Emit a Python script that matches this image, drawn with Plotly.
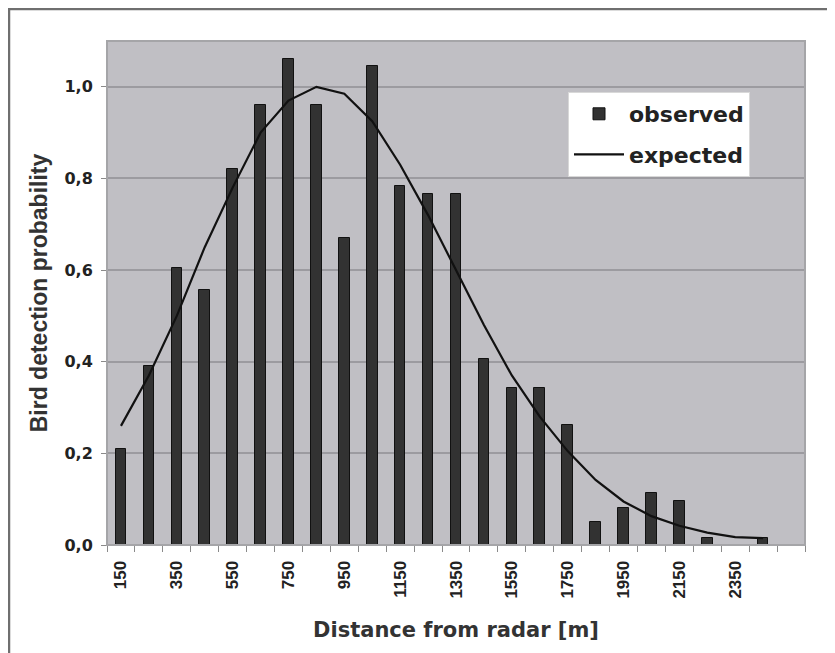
import plotly.graph_objects as go

distance = [150, 250, 350, 450, 550, 650, 750, 850, 950, 1050, 1150, 1250,
            1350, 1450, 1550, 1650, 1750, 1850, 1950, 2050, 2150, 2250, 2350, 2450]
observed = [0.21, 0.39, 0.605, 0.557, 0.82, 0.96, 1.06, 0.96, 0.67, 1.046, 0.784, 0.766,
            0.766, 0.406, 0.343, 0.343, 0.262, 0.05, 0.08, 0.113, 0.096, 0.015, 0.0, 0.015]
expected = [0.26, 0.37, 0.50, 0.65, 0.78, 0.90, 0.97, 1.00, 0.985, 0.925, 0.83, 0.72,
            0.60, 0.48, 0.37, 0.28, 0.205, 0.142, 0.095, 0.063, 0.042, 0.027, 0.017, 0.015]
x_ticks = [150, 350, 550, 750, 950, 1150, 1350, 1550, 1750, 1950, 2150, 2350]
y_ticks = [0.0, 0.2, 0.4, 0.6, 0.8, 1.0]

WIDE = "DejaVu Sans, Verdana, sans-serif"
NARROW = "Liberation Sans, Arial, sans-serif"

L, T, PW, PH = 99, 33, 698, 504
W, H = 835, 653

fig = go.Figure()
fig.add_trace(go.Bar(
    x=distance, y=observed, name="observed", width=38, legendgroup="o",
    marker=dict(color="#323232", line=dict(color="#111111", width=1)),
))
fig.add_trace(go.Scatter(
    x=distance, y=expected, name="expected", mode="lines", legendgroup="e",
    line=dict(color="#111111", width=2.2),
))

fig.update_layout(
    width=W, height=H,
    margin=dict(l=L, r=W - L - PW, t=T, b=H - T - PH, autoexpand=False),
    paper_bgcolor="white",
    plot_bgcolor="#c0bfc4",
    separators=",.",
    font=dict(family=WIDE, color="#222222"),
    showlegend=True,
    legend=dict(
        x=(560 - L) / PW, y=(T + PH - 84) / PH, xanchor="left", yanchor="top",
        bgcolor="white", bordercolor="#d8d8d8", borderwidth=1,
        font=dict(family=WIDE, size=22, color="#222222", weight="bold"),
        itemwidth=50, traceorder="grouped", tracegroupgap=9,
        entrywidth=185,
    ),
    bargap=0,
)

fig.update_xaxes(
    range=[100, 2600], automargin=False,
    tickvals=x_ticks, ticktext=[str(v) for v in x_ticks],
    tickangle=-90, ticks="", ticklabelstandoff=8,
    tickfont=dict(family=NARROW, size=17, color="#222222", weight="bold"),
    showgrid=False, zeroline=False,
    showline=True, linecolor="#8a8a8a", linewidth=1,
    minor=dict(tick0=100, dtick=100, ticks="outside", ticklen=6,
               tickcolor="#8a8a8a", showgrid=False),
    title=dict(text="Distance from radar [m]",
               font=dict(family=WIDE, size=21, color="#333333", weight="bold"),
               standoff=24),
)
fig.update_yaxes(
    range=[0, 1.1], automargin=False,
    tickvals=y_ticks, tickformat=".1f",
    ticks="outside", ticklen=5, tickcolor="#8a8a8a", ticklabelstandoff=5,
    tickfont=dict(family=WIDE, size=16, color="#222222", weight="bold"),
    showgrid=True, gridcolor="#9c9ba0", gridwidth=2,
    zeroline=False,
    showline=True, linecolor="#8a8a8a", linewidth=1,
    title=dict(text="Bird detection probability",
               font=dict(family=NARROW, size=23, color="#333333", weight="bold"),
               standoff=10),
)

# plot-area edges
fig.add_shape(type="rect", xref="paper", yref="paper", x0=0, y0=0, x1=1, y1=1,
              line=dict(color="#a5a5a8", width=2), layer="above")
# outer frame
fig.add_shape(type="rect", xref="paper", yref="paper",
              x0=(1 - L) / PW, x1=(W + 20 - L) / PW,
              y0=(T + PH - H - 20) / PH, y1=(T + PH - 1) / PH,
              line=dict(color="#6f6f6f", width=2.5))

fig.write_html("out.html")
